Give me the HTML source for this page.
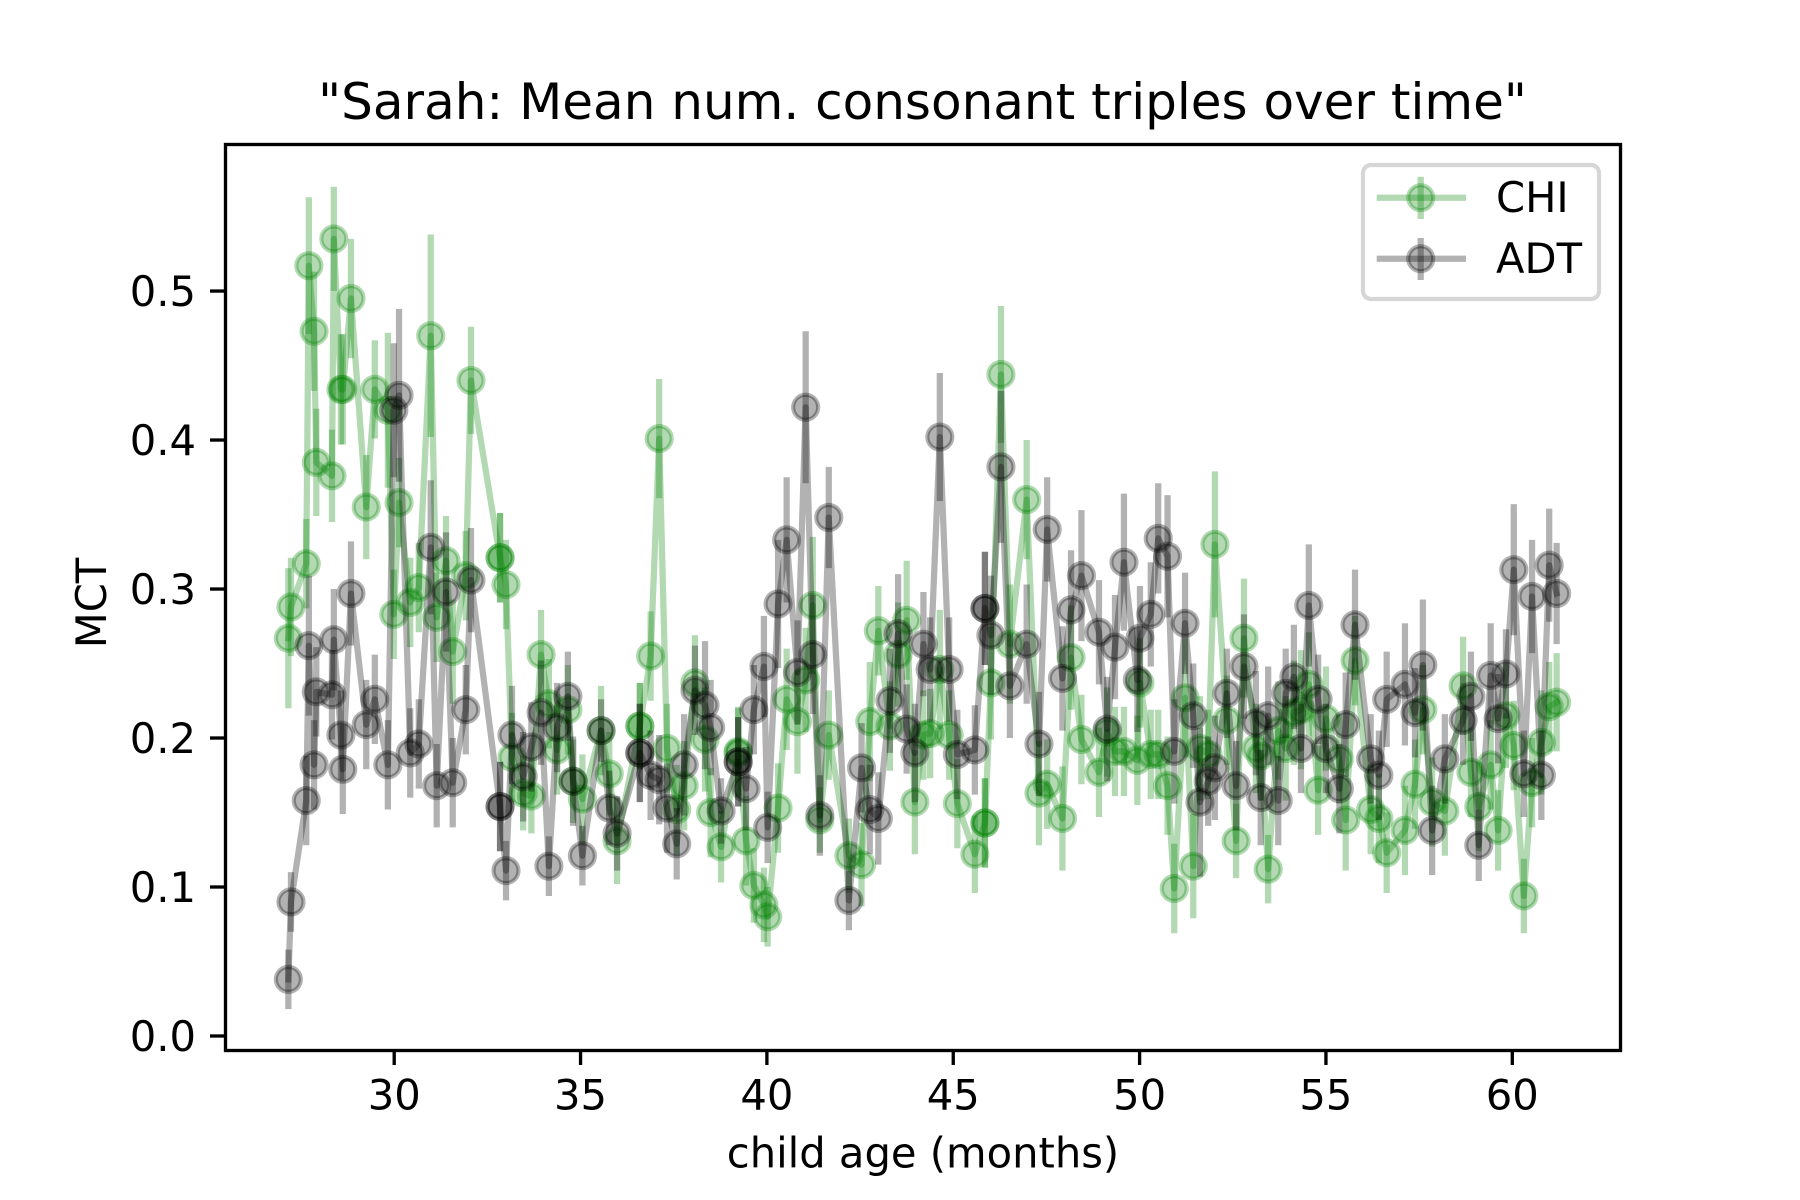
<!DOCTYPE html>
<html lang="en">
<head>
<meta charset="utf-8">
<title>Sarah: Mean num. consonant triples over time</title>
<style>
html,body{margin:0;padding:0;background:#fff;width:1800px;height:1200px;overflow:hidden}
svg{display:block}
text{font-family:"DejaVu Sans","Liberation Sans",sans-serif;fill:#000}
</style>
</head>
<body>
<svg id="chart" xmlns="http://www.w3.org/2000/svg" width="1800" height="1200" viewBox="0 0 1800 1200">
  <rect x="0" y="0" width="1800" height="1200" fill="#fff"/>
  <g id="series-layer"></g>
  <rect x="225.5" y="144.5" width="1395" height="906" fill="none" stroke="#000" stroke-width="3.33"/>
  <g id="ticks-layer"></g>
  <text x="922.5" y="119" font-size="50" text-anchor="middle">"Sarah: Mean num. consonant triples over time"</text>
  <text x="923" y="1167.5" font-size="41.67" text-anchor="middle">child age (months)</text>
  <text transform="translate(106 603) rotate(-90)" font-size="41.67" text-anchor="middle">MCT</text>
  <g>
    <rect x="1363" y="165" width="236" height="134" rx="8" ry="8" fill="#fff" fill-opacity="0.8" stroke="#ccc" stroke-opacity="0.8" stroke-width="4.17"/>
    <g>
      <line x1="1376.7" y1="197.7" x2="1466" y2="197.7" stroke="#008000" stroke-opacity="0.3" stroke-width="6.25"/>
      <line x1="1420.7" y1="176.7" x2="1420.7" y2="219" stroke="#008000" stroke-opacity="0.3" stroke-width="6.25"/>
      <circle cx="1420.7" cy="197.7" r="12.5" fill="#008000" fill-opacity="0.3" stroke="#008000" stroke-opacity="0.3" stroke-width="4.17"/>
      <text x="1496" y="212" font-size="41.67">CHI</text>
    </g>
    <g>
      <line x1="1376.7" y1="258.7" x2="1466" y2="258.7" stroke="#000" stroke-opacity="0.3" stroke-width="6.25"/>
      <line x1="1420.7" y1="238" x2="1420.7" y2="280" stroke="#000" stroke-opacity="0.3" stroke-width="6.25"/>
      <circle cx="1420.7" cy="258.7" r="12.5" fill="#000" fill-opacity="0.3" stroke="#000" stroke-opacity="0.3" stroke-width="4.17"/>
      <text x="1496" y="273" font-size="41.67">ADT</text>
    </g>
  </g>
</svg>
<script>
const months = [
27.16,27.23,27.64,27.71,27.85,27.91,28.33,28.38,28.57,28.62,28.84,29.25,29.48,29.83,29.99,30.13,30.43,30.66,30.98,31.14,31.39,31.57,31.92,32.06,32.84,32.84,33.0,33.16,33.46,33.68,33.94,34.15,34.37,34.66,
34.80,35.05,35.55,35.77,35.98,36.59,36.59,36.88,37.11,37.32,37.58,37.78,38.07,38.34,38.49,38.77,39.23,39.23,39.44,39.65,39.92,40.02,40.30,40.53,40.82,41.04,41.23,41.42,41.66,42.2,42.54,42.76,42.99,43.30,43.52,43.75,43.97,
44.2,44.38,44.64,44.89,45.11,45.58,45.85,45.85,46.01,46.28,46.52,46.97,47.3,47.52,47.93,48.16,48.44,48.91,49.13,49.34,49.58,49.94,50.01,50.3,50.5,50.75,50.93,51.22,51.44,51.62,51.84,52.02,52.34,52.59,52.8,
53.12,53.25,53.45,53.72,53.92,54.14,54.33,54.54,54.79,55.0,55.36,55.53,55.78,56.2,56.42,56.63,57.12,57.39,57.6,57.85,58.19,58.68,58.89,59.1,59.42,59.62,59.83,60.04,60.31,60.53,60.78,60.99,61.19
];
const chiValues = [
.267,.288,.317,.517,.473,.385,.376,.535,.434,.434,.495,.355,.434,.42,.283,.358,.291,.301,.47,.281,.319,.258,.309,.44,.321,.321,.303,.187,.163,.161,.256,.223,.192,.219,
.171,.159,.205,.176,.131,.208,.208,.255,.401,.193,.152,.168,.237,.199,.15,.127,.191,.19,.131,.101,.088,.08,.153,.226,.211,.239,.289,.145,.202,.121,.115,.211,.272,.208,.256,.279,.157,
.202,.203,.246,.202,.156,.122,.143,.143,.237,.444,.263,.36,.163,.169,.146,.254,.199,.177,.204,.191,.191,.185,.237,.189,.189,.168,.099,.227,.114,.193,.189,.33,.212,.131,.267,
.193,.188,.112,.205,.193,.217,.219,.236,.165,.213,.186,.145,.252,.152,.146,.123,.138,.169,.219,.157,.151,.235,.177,.154,.182,.138,.215,.195,.094,.17,.197,.221,.224
];
const adtValues = [
.038,.09,.158,.262,.182,.231,.229,.266,.202,.179,.297,.209,.226,.182,.42,.43,.19,.196,.328,.168,.298,.17,.219,.306,.154,.154,.111,.202,.174,.194,.217,.114,.207,.228,
.171,.121,.205,.153,.136,.19,.19,.175,.172,.153,.129,.182,.232,.222,.207,.151,.184,.184,.166,.219,.248,.14,.29,.333,.244,.422,.256,.148,.348,.091,.18,.152,.146,.225,.27,.206,.19,
.263,.246,.402,.246,.189,.192,.287,.287,.269,.382,.235,.263,.196,.34,.24,.286,.309,.271,.206,.261,.318,.239,.267,.283,.334,.322,.191,.277,.215,.157,.171,.18,.23,.168,.248,
.21,.16,.215,.158,.23,.241,.193,.289,.226,.193,.166,.209,.276,.186,.175,.226,.236,.217,.249,.138,.186,.212,.228,.128,.242,.213,.243,.313,.176,.295,.175,.316,.297
];
const chiErrors = [
.047,.033,.03,.046,.04,.036,.031,.035,.037,.037,.04,.035,.033,.052,.03,.03,.03,.03,.068,.03,.03,.035,.03,.036,.03,.03,.03,.03,.025,.025,.03,.03,.03,.03,
.028,.03,.03,.028,.029,.029,.029,.03,.04,.03,.03,.03,.032,.035,.03,.024,.03,.03,.03,.025,.025,.02,.03,.034,.035,.035,.046,.022,.03,.025,.028,.04,.03,.03,.035,.04,.035,
.03,.03,.04,.03,.03,.026,.03,.03,.038,.046,.04,.04,.035,.03,.035,.035,.03,.03,.03,.03,.03,.03,.03,.03,.03,.033,.03,.04,.035,.035,.03,.049,.03,.025,.04,
.03,.03,.023,.033,.035,.035,.04,.035,.03,.035,.03,.034,.03,.03,.03,.027,.03,.03,.03,.03,.03,.033,.03,.03,.03,.027,.035,.03,.025,.03,.035,.03,.033
];
const adtErrors = [
.02,.02,.03,.047,.03,.03,.03,.034,.03,.03,.035,.03,.03,.03,.045,.058,.03,.03,.045,.028,.04,.03,.03,.035,.03,.03,.02,.033,.03,.03,.035,.02,.03,.03,
.03,.02,.021,.025,.025,.033,.033,.03,.03,.03,.024,.034,.03,.043,.032,.022,.03,.03,.028,.03,.034,.024,.043,.042,.035,.051,.04,.027,.034,.02,.03,.03,.031,.035,.04,.03,.033,
.035,.035,.043,.035,.03,.03,.038,.038,.04,.051,.035,.04,.035,.035,.035,.04,.044,.035,.035,.035,.046,.035,.035,.035,.037,.041,.035,.034,.035,.05,.03,.035,.03,.03,.035,
.035,.032,.033,.03,.03,.035,.03,.041,.03,.03,.03,.035,.037,.03,.03,.032,.041,.03,.044,.03,.03,.03,.03,.024,.035,.03,.03,.044,.029,.038,.03,.038,.034
];
const xTickLabels = ["30","35","40","45","50","55","60"];
const yTickLabels = ["0.0","0.1","0.2","0.3","0.4","0.5"];

const SVG_NS = "http://www.w3.org/2000/svg";
const X_MIN = 25.46, X_MAX = 62.89, Y_MIN = -0.0094, Y_MAX = 0.5987;
const PLOT_LEFT = 225, PLOT_RIGHT = 1620, PLOT_TOP = 144, PLOT_BOTTOM = 1050;

function xScale(m) { return PLOT_LEFT + (m - X_MIN) / (X_MAX - X_MIN) * (PLOT_RIGHT - PLOT_LEFT); }
function yScale(v) { return PLOT_BOTTOM - (v - Y_MIN) / (Y_MAX - Y_MIN) * (PLOT_BOTTOM - PLOT_TOP); }

function drawSeries(layer, name, color, xs, ys, errs) {
  const group = document.createElementNS(SVG_NS, "g");
  
  
  layer.appendChild(group);

  const line = document.createElementNS(SVG_NS, "polyline");
  
  
  line.setAttribute("points", xs.map((m, i) => xScale(m).toFixed(2) + "," + yScale(ys[i]).toFixed(2)).join(" "));
  line.setAttribute("fill", "none");
  line.setAttribute("stroke", color);
  line.setAttribute("stroke-opacity", "0.3");
  line.setAttribute("stroke-width", "6.25");
  line.setAttribute("stroke-linejoin", "round");
  line.setAttribute("stroke-linecap", "square");
  group.appendChild(line);

  xs.forEach((m, i) => {
    const bar = document.createElementNS(SVG_NS, "line");
    
    
    bar.setAttribute("x1", xScale(m).toFixed(2));
    bar.setAttribute("x2", xScale(m).toFixed(2));
    bar.setAttribute("y1", yScale(ys[i] - errs[i]).toFixed(2));
    bar.setAttribute("y2", yScale(ys[i] + errs[i]).toFixed(2));
    bar.setAttribute("stroke", color);
    bar.setAttribute("stroke-opacity", "0.3");
    bar.setAttribute("stroke-width", "6.25");
    group.appendChild(bar);
  });

  xs.forEach((m, i) => {
    const point = document.createElementNS(SVG_NS, "circle");
    
    
    point.setAttribute("cx", xScale(m).toFixed(2));
    point.setAttribute("cy", yScale(ys[i]).toFixed(2));
    point.setAttribute("r", "12.5");
    point.setAttribute("fill", color);
    point.setAttribute("fill-opacity", "0.3");
    point.setAttribute("stroke", color);
    point.setAttribute("stroke-opacity", "0.3");
    point.setAttribute("stroke-width", "4.17");
    group.appendChild(point);
  });
}

function drawTicks(layer) {
  xTickLabels.forEach((label) => {
    const px = xScale(parseFloat(label));
    const tick = document.createElementNS(SVG_NS, "line");
    
    
    tick.setAttribute("x1", px);
    tick.setAttribute("x2", px);
    tick.setAttribute("y1", PLOT_BOTTOM);
    tick.setAttribute("y2", PLOT_BOTTOM + 15);
    tick.setAttribute("stroke", "#000");
    tick.setAttribute("stroke-width", "3.33");
    layer.appendChild(tick);
    const text = document.createElementNS(SVG_NS, "text");
    
    
    text.setAttribute("x", px);
    text.setAttribute("y", 1109.3);
    text.setAttribute("font-size", "41.67");
    text.setAttribute("text-anchor", "middle");
    text.textContent = label;
    layer.appendChild(text);
  });
  yTickLabels.forEach((label) => {
    const py = yScale(parseFloat(label));
    const tick = document.createElementNS(SVG_NS, "line");
    
    
    tick.setAttribute("x1", PLOT_LEFT - 15);
    tick.setAttribute("x2", PLOT_LEFT);
    tick.setAttribute("y1", py);
    tick.setAttribute("y2", py);
    tick.setAttribute("stroke", "#000");
    tick.setAttribute("stroke-width", "3.33");
    layer.appendChild(tick);
    const text = document.createElementNS(SVG_NS, "text");
    
    
    text.setAttribute("x", 196);
    text.setAttribute("y", py + 15);
    text.setAttribute("font-size", "41.67");
    text.setAttribute("text-anchor", "end");
    text.textContent = label;
    layer.appendChild(text);
  });
}

const seriesLayer = document.getElementById("series-layer");
drawSeries(seriesLayer, "chi", "#008000", months, chiValues, chiErrors);
drawSeries(seriesLayer, "adt", "#000000", months, adtValues, adtErrors);
drawTicks(document.getElementById("ticks-layer"));
</script>
</body>
</html>
